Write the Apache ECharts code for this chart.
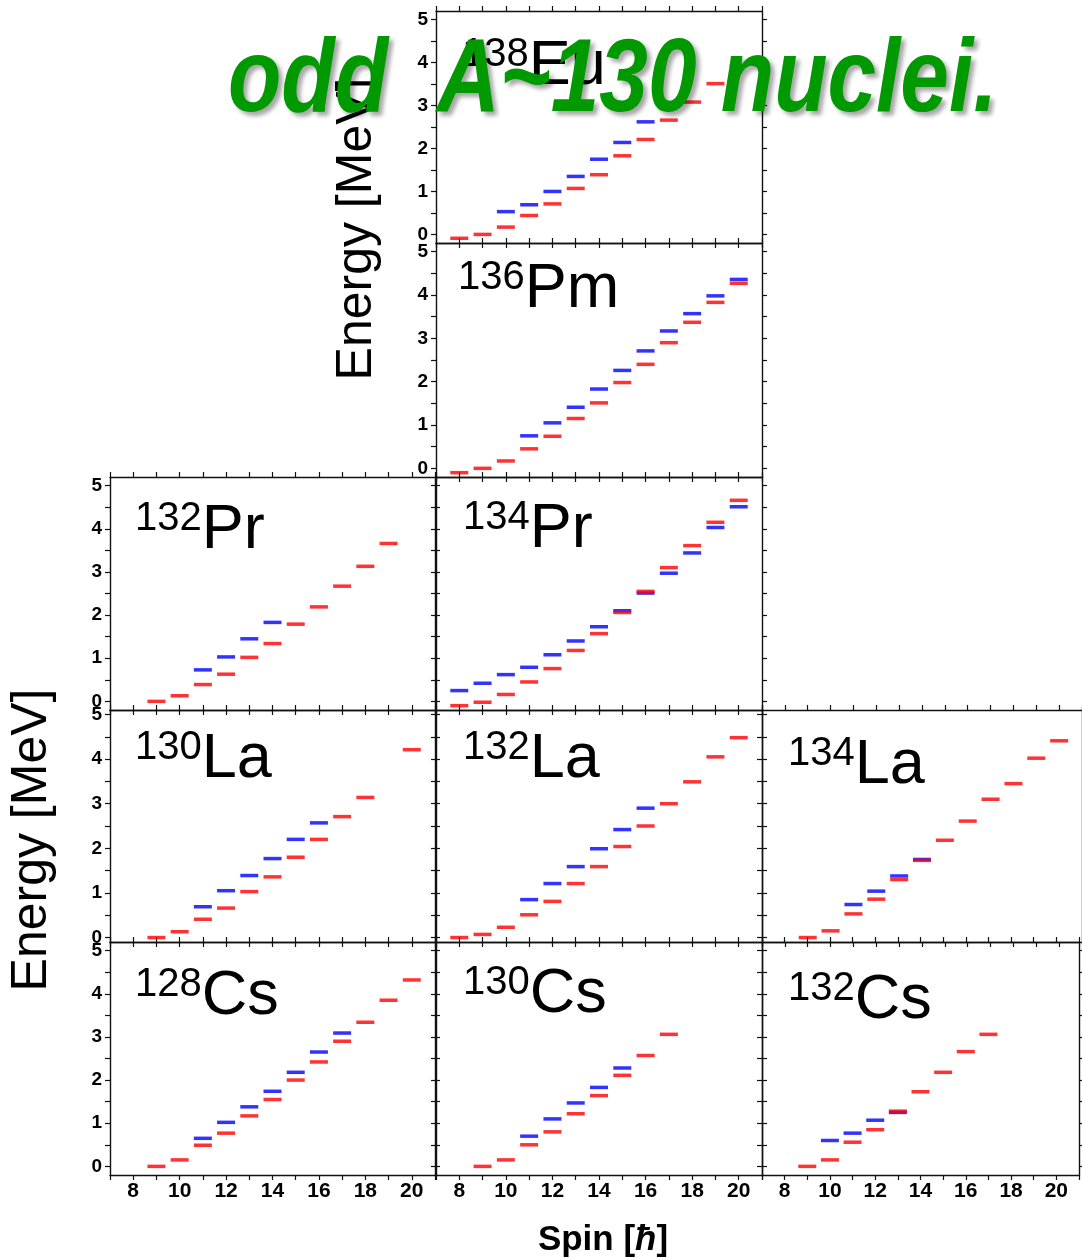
<!DOCTYPE html>
<html><head><meta charset="utf-8">
<script src="https://cdn.jsdelivr.net/npm/echarts@6/dist/echarts.min.js"></script>
<style>html,body{margin:0;padding:0;background:#fff}#c{width:1082px;height:1258px}</style>
</head><body><div id="c"></div>
<script>
// ---------- data ----------
const spins = [8, 9, 10, 11, 12, 13, 14, 15, 16, 17, 18, 19, 20];
const yTickLabels = [0, 1, 2, 3, 4, 5];
const yMinorTicks = [0, 0.5, 1, 1.5, 2, 2.5, 3, 3.5, 4, 4.5, 5];

const eu138Red  = [-0.09, 0, 0.17, 0.44, 0.71, 1.07, 1.39, 1.83, 2.21, 2.66, 3.08, 3.51, 3.93];
const eu138Blue = [null, null, 0.53, 0.69, 1.00, 1.35, 1.75, 2.14, 2.62, 3.04, null, null, null];
const pm136Red  = [-0.10, 0, 0.17, 0.45, 0.74, 1.15, 1.51, 1.98, 2.40, 2.90, 3.37, 3.83, 4.27];
const pm136Blue = [null, null, null, 0.75, 1.05, 1.41, 1.83, 2.26, 2.71, 3.17, 3.57, 3.98, 4.36];
const pr132Red  = [null, 0, 0.13, 0.39, 0.63, 1.02, 1.34, 1.79, 2.19, 2.67, 3.13, 3.66, null];
const pr132Blue = [null, null, null, 0.73, 1.03, 1.45, 1.83, null, null, null, null, null, null];
const pr134Red  = [-0.10, -0.02, 0.16, 0.45, 0.76, 1.18, 1.57, 2.06, 2.55, 3.10, 3.61, 4.15, 4.66];
const pr134Blue = [0.25, 0.42, 0.62, 0.79, 1.08, 1.40, 1.73, 2.10, 2.51, 2.97, 3.44, 4.03, 4.51];
const la130Red  = [null, 0, 0.13, 0.41, 0.66, 1.03, 1.36, 1.80, 2.20, 2.71, 3.14, null, 4.21];
const la130Blue = [null, null, null, 0.69, 1.05, 1.39, 1.77, 2.20, 2.57, null, null, null, null];
const la132Red  = [0, 0.07, 0.23, 0.51, 0.81, 1.21, 1.59, 2.04, 2.50, 3.00, 3.49, 4.05, 4.48];
const la132Blue = [null, null, null, 0.85, 1.21, 1.59, 1.99, 2.42, 2.90, null, null, null, null];
const la134Red  = [null, 0, 0.15, 0.53, 0.86, 1.30, 1.73, 2.18, 2.61, 3.10, 3.45, 4.02, 4.41];
const la134Blue = [null, null, null, 0.74, 1.04, 1.38, 1.75, null, null, null, null, null, null];
const cs128Red  = [null, 0, 0.15, 0.49, 0.77, 1.17, 1.55, 2.00, 2.42, 2.90, 3.34, 3.85, 4.32];
const cs128Blue = [null, null, null, 0.65, 1.02, 1.38, 1.74, 2.18, 2.65, 3.09, null, null, null];
const cs130Red  = [null, 0, 0.15, 0.50, 0.80, 1.22, 1.64, 2.11, 2.57, 3.06, null, null, null];
const cs130Blue = [null, null, null, 0.70, 1.10, 1.47, 1.83, 2.28, null, null, null, null, null];
const cs132Red  = [null, 0, 0.15, 0.56, 0.85, 1.28, 1.73, 2.18, 2.66, 3.06, null, null, null];
const cs132Blue = [null, null, 0.60, 0.77, 1.07, 1.25, null, null, null, null, null, null, null];

const massNumbers = ['138', '136', '132', '134', '130', '132', '134', '128', '130', '132'];
const elements    = ['Eu', 'Pm', 'Pr', 'Pr', 'La', 'La', 'La', 'Cs', 'Cs', 'Cs'];
const redSets  = [eu138Red, pm136Red, pr132Red, pr134Red, la130Red, la132Red, la134Red, cs128Red, cs130Red, cs132Red];
const blueSets = [eu138Blue, pm136Blue, pr132Blue, pr134Blue, la130Blue, la132Blue, la134Blue, cs128Blue, cs130Blue, cs132Blue];

const titleText = 'odd  A~130 nuclei.';
const yTitle = 'Energy [MeV]';

// ---------- layout ----------
const colLeft = [110, 436, 762];
const colWidth = [325, 326, 326];
const rowTop = [11, 243, 477, 710, 942];
const rowHeight = [232, 234, 233, 232, 233];
const rowRange = [[-0.2, 5.2], [-0.2, 5.2], [-0.2, 5.2], [-0.1, 5.1], [-0.2, 5.2]];
const panelPos = [[0,1],[1,1],[2,0],[2,1],[3,0],[3,1],[3,2],[4,0],[4,1],[4,2]];
const labelOffset = [[26,28],[22,19],[25,26],[27,25],[25,22],[27,22],[26,28],[25,27],[27,25],[26,31]];

const FONT = '"Liberation Sans", Arial, sans-serif';
const lineCol = '#111';

const grids = [], xAxes = [], yAxes = [], series = [], graphics = [];

panelPos.forEach(([r, c], i) => {
  grids.push({ left: colLeft[c], top: rowTop[r], width: colWidth[c], height: rowHeight[r], show: false });
  const leftmost = panelPos.every(([r2, c2]) => !(r2 === r && c2 < c));
  const bottomRow = r === 4;
  const xBase = {
    type: 'value', gridIndex: i, min: 7, max: 21, interval: 1,
    axisLine: { show: true, onZero: false, lineStyle: { color: lineCol, width: 1.4 } },
    axisTick: { show: true, inside: false, length: 5, lineStyle: { color: lineCol, width: 1.2 } },
    splitLine: { show: false }
  };
  xAxes.push(Object.assign({}, xBase, {
    position: 'bottom',
    axisLabel: { show: bottomRow, formatter: v => (v % 2 === 0 ? String(v) : ''),
      fontFamily: FONT, fontWeight: 'bold', fontSize: 21, color: '#000', margin: 6,
      showMinLabel: true, showMaxLabel: true }
  }));
  xAxes.push(Object.assign({}, xBase, { position: 'top', axisLabel: { show: false } }));
  const yBase = {
    type: 'value', gridIndex: i, min: rowRange[r][0], max: rowRange[r][1],
    axisLine: { show: true, onZero: false, lineStyle: { color: lineCol, width: 1.4 } },
    axisTick: { show: true, inside: false, length: 5, customValues: yMinorTicks, lineStyle: { color: lineCol, width: 1.2 } },
    splitLine: { show: false }
  };
  yAxes.push(Object.assign({}, yBase, {
    position: 'left',
    axisLabel: { show: leftmost, customValues: yTickLabels, fontFamily: FONT, fontWeight: 'bold',
      fontSize: 19, color: '#000', margin: 8 }
  }));
  yAxes.push(Object.assign({}, yBase, { position: 'right', axisLabel: { show: false } }));

  const mk = arr => spins.map((s, k) => [s, arr[k]]).filter(d => d[1] !== null);
  series.push({ type: 'scatter', xAxisIndex: 2 * i, yAxisIndex: 2 * i, data: mk(blueSets[i]),
    symbol: 'rect', symbolSize: [18, 3.5], itemStyle: { color: '#0000ff' }, silent: true, z: 3 });
  series.push({ type: 'scatter', xAxisIndex: 2 * i, yAxisIndex: 2 * i, data: mk(redSets[i]),
    symbol: 'rect', symbolSize: [18, 3.5], itemStyle: { color: '#ff0000' }, silent: true, z: 4 });

  graphics.push({
    type: 'text', x: colLeft[c] + labelOffset[i][0], y: rowTop[r] + labelOffset[i][1] - 4, z: 50,
    style: {
      text: '{s|' + massNumbers[i] + '}{e|' + elements[i] + '}',
      verticalAlign: 'top', align: 'left',
      rich: {
        s: { fontSize: 40, lineHeight: 40, verticalAlign: 'top', fontFamily: FONT, fill: '#000' },
        e: { fontSize: 63, lineHeight: 63, verticalAlign: 'bottom', fontFamily: FONT, fill: '#000' }
      }
    }
  });
});

// axis titles
graphics.push({ type: 'text', x: 32, y: 840, rotation: Math.PI / 2, z: 50,
  style: { text: yTitle, fontSize: 50, fontFamily: FONT, fill: '#000', align: 'center', verticalAlign: 'middle' } });
graphics.push({ type: 'text', x: 357, y: 229, rotation: Math.PI / 2, z: 50,
  style: { text: yTitle, fontSize: 50, fontFamily: FONT, fill: '#000', align: 'center', verticalAlign: 'middle' } });
graphics.push({ type: 'text', x: 603, y: 1240, z: 50,
  style: { text: '{a|Spin [}{b|ħ}{a|]}', align: 'center', verticalAlign: 'middle',
    rich: { a: { fontSize: 35, fontWeight: 'bold', fontFamily: FONT, fill: '#000' },
            b: { fontSize: 35, fontWeight: 'bold', fontStyle: 'italic', fontFamily: FONT, fill: '#000' } } } });
// big green title
graphics.push({ type: 'text', x: 228, y: 82, scaleX: 0.84, z: 100,
  style: { text: titleText, fontSize: 104, fontWeight: 'bold', fontStyle: 'italic', fontFamily: FONT,
    fill: '#009a00', align: 'left', verticalAlign: 'middle',
    textShadowColor: 'rgba(0,0,0,0.35)', textShadowOffsetX: 4, textShadowOffsetY: 4, textShadowBlur: 4 } });

const chart = echarts.init(document.getElementById('c'), null, { renderer: 'canvas' });
chart.setOption({
  animation: false,
  backgroundColor: '#fff',
  grid: grids, xAxis: xAxes, yAxis: yAxes, series: series, graphic: graphics
});
</script>
</body></html>
